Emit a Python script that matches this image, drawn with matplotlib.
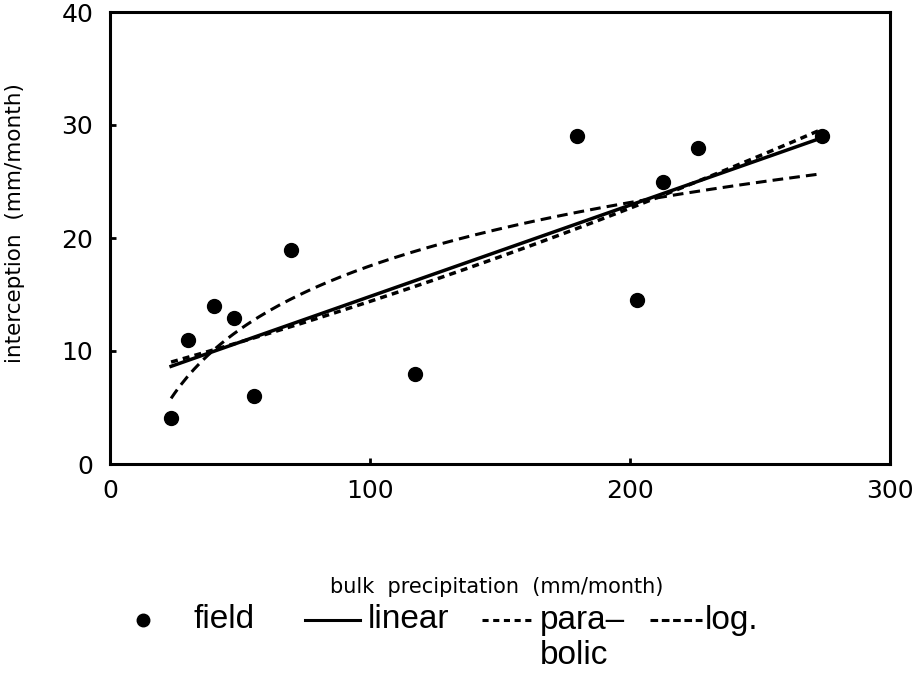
import numpy as np
import matplotlib
matplotlib.use("Agg")
import matplotlib.pyplot as plt
from matplotlib.lines import Line2D

plt.rcParams['font.family'] = ['DejaVu Sans']

# data
bulk = np.array([23.5, 30, 40, 47.7, 55.4, 69.6, 117.3, 179.6, 202.7, 212.7, 226.2, 273.8])
interception = np.array([4.1, 11.0, 14.0, 12.9, 6.0, 18.9, 8.0, 29.0, 14.5, 25.0, 28.0, 29.0])

xticks = [0, 100, 200, 300]
yticks = [0, 10, 20, 30, 40]

# regressions fitted to the field data
xs = np.linspace(bulk.min(), bulk.max(), 200)
lin = np.polyfit(bulk, interception, 1)
par = np.polyfit(bulk, interception, 2)
lg = np.polyfit(np.log(bulk), interception, 1)

fig = plt.figure(figsize=(9.22, 6.75), dpi=100)
ax = fig.add_axes([110/922, 1-464/675, 780/922, 452/675])

ax.plot(bulk, interception, 'o', color='black', ms=10, zorder=5)
ax.plot(xs, np.polyval(lin, xs), '-', color='black', lw=2.5)
ax.plot(xs, np.polyval(par, xs), color='black', lw=2.5, dashes=(2.0, 1.5))
ax.plot(xs, np.polyval(lg, np.log(xs)), color='black', lw=2.2, dashes=(3.5, 2.0))

ax.set_xlim(0, 300)
ax.set_ylim(0, 40)
ax.set_xticks(xticks)
ax.set_yticks(yticks)
ax.tick_params(direction='in', length=4, width=2, labelsize=18)
ax.tick_params(axis='y', pad=12)
ax.tick_params(axis='x', pad=11)
for s in ax.spines.values():
    s.set_linewidth(2.2)

fig.text(15/922, 1-223/675, 'interception  (mm/month)', fontsize=15.5,
         rotation=90, ha='center', va='center')
fig.text(497/922, 1-587/675, 'bulk  precipitation  (mm/month)', fontsize=15,
         ha='center', va='center')

# legend drawn below the axes
lf = ['Liberation Sans', 'DejaVu Sans']
ly = 1 - 620/675
fig.add_artist(Line2D([143/922], [ly], marker='o', ms=9, color='black',
                      transform=fig.transFigure))
fig.text(193/922, ly, 'field', fontsize=24, va='center', family=lf)
fig.add_artist(Line2D([305/922, 360/922], [ly, ly], color='black', lw=2.2,
                      transform=fig.transFigure))
fig.text(368/922, ly, 'linear', fontsize=24, va='center', family=lf)
fig.add_artist(Line2D([482/922, 535/922], [ly, ly], color='black', lw=2.2,
                      dashes=(2.0, 1.5), transform=fig.transFigure))
fig.text(540/922, ly, 'para\u2013', fontsize=24, va='center', family=lf)
fig.text(540/922, 1-655/675, 'bolic', fontsize=24, va='center', family=lf)
fig.add_artist(Line2D([650/922, 702/922], [ly, ly], color='black', lw=2.2,
                      dashes=(2.5, 1.2), transform=fig.transFigure))
fig.text(705/922, ly, 'log.', fontsize=24, va='center', family=lf)

fig.savefig('out.png', dpi=100)
